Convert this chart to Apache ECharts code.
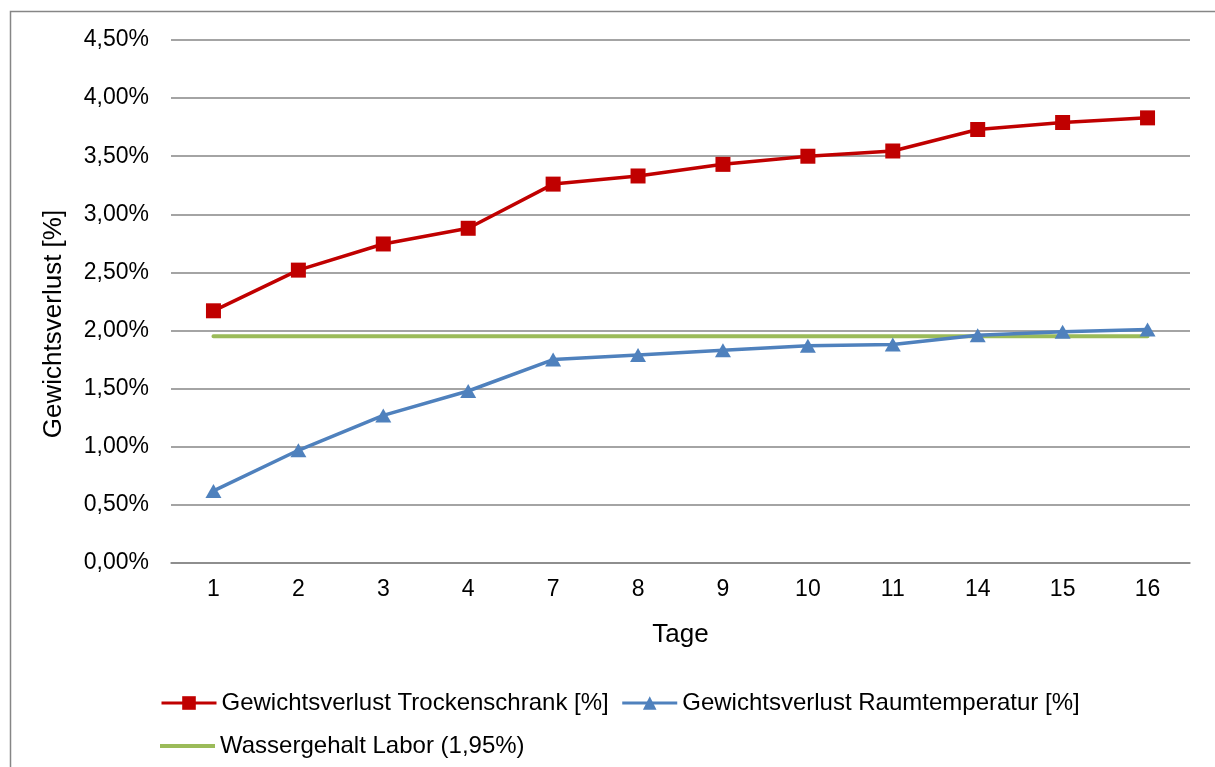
<!DOCTYPE html>
<html>
<head>
<meta charset="utf-8">
<script src="https://cdn.jsdelivr.net/npm/echarts@6/dist/echarts.min.js"></script>
<style>
  html, body { margin: 0; padding: 0; background: #fff; }
  #chart { width: 1215px; height: 767px; }
</style>
</head>
<body>
<div id="chart"></div>
<script>
// Tage der Messung
const tage = ['1', '2', '3', '4', '7', '8', '9', '10', '11', '14', '15', '16'];
// Gewichtsverlust in Prozent
const trockenschrank = [2.17, 2.52, 2.745, 2.88, 3.26, 3.33, 3.43, 3.50, 3.545, 3.73, 3.79, 3.83];
const raumtemperatur = [0.62, 0.97, 1.27, 1.48, 1.75, 1.79, 1.83, 1.87, 1.88, 1.96, 1.99, 2.01];
const wassergehalt = [1.95, 1.95, 1.95, 1.95, 1.95, 1.95, 1.95, 1.95, 1.95, 1.95, 1.95, 1.95];

const nameRot = 'Gewichtsverlust Trockenschrank [%]';
const nameBlau = 'Gewichtsverlust Raumtemperatur [%]';
const nameGruen = 'Wassergehalt Labor (1,95%)';
const titelY = 'Gewichtsverlust [%]';
const titelX = 'Tage';

const font = 'Liberation Sans, Arial, sans-serif';
const chart = echarts.init(document.getElementById('chart'), null, { renderer: 'canvas' });

chart.setOption({
  backgroundColor: '#ffffff',
  animation: false,
  graphic: [{
    type: 'rect',
    shape: { x: 10.5, y: 11.5, width: 1220, height: 770 },
    style: { fill: 'none', stroke: '#868686', lineWidth: 1.5 },
    silent: true
  }, {
    // vertical axis title
    type: 'text',
    x: 54, y: 324,
    rotation: Math.PI / 2,
    style: {
      text: titelY,
      fontFamily: font, fontSize: 26, fill: '#000',
      align: 'center', verticalAlign: 'middle'
    },
    silent: true
  }],
  grid: { left: 171, right: 25, top: 40, bottom: 204, containLabel: false },
  legend: [{
    data: [nameRot, nameBlau],
    left: 155, top: 686,
    itemWidth: 55, itemHeight: 17, itemGap: 12,
    lineStyle: { width: 3 },
    textStyle: { fontFamily: font, fontSize: 24, color: '#000' }
  }, {
    data: [{ name: nameGruen, icon: 'rect' }],
    left: 155, top: 729,
    itemWidth: 55, itemHeight: 4, itemGap: 12,
    textStyle: { fontFamily: font, fontSize: 24, color: '#000' }
  }],
  xAxis: {
    type: 'category',
    data: tage,
    boundaryGap: true,
    name: titelX,
    nameLocation: 'middle',
    nameGap: 59,
    nameTextStyle: { fontFamily: font, fontSize: 26, color: '#000' },
    axisLine: { show: true, lineStyle: { color: '#868686', width: 1.5 } },
    axisTick: { show: false },
    axisLabel: { fontFamily: font, fontSize: 23, color: '#000', margin: 15 }
  },
  yAxis: {
    type: 'value',
    min: 0, max: 4.5, interval: 0.5,
    axisLine: { show: false },
    axisTick: { show: false },
    splitLine: { show: true, lineStyle: { color: '#868686', width: 1.5 } },
    axisLabel: {
      fontFamily: font, fontSize: 23, color: '#000', margin: 22,
      padding: [6, 0, 0, 0],
      formatter: v => v.toFixed(2).replace('.', ',') + '%'
    }
  },
  series: [{
    name: nameRot,
    type: 'line',
    data: trockenschrank,
    symbol: 'rect',
    symbolSize: 15,
    lineStyle: { color: '#C00000', width: 3.5 },
    itemStyle: { color: '#C00000' },
    z: 3
  }, {
    name: nameBlau,
    type: 'line',
    data: raumtemperatur,
    symbol: 'triangle',
    symbolSize: [16, 14],
    lineStyle: { color: '#4F81BD', width: 3.5 },
    itemStyle: { color: '#4F81BD' },
    z: 4
  }, {
    name: nameGruen,
    type: 'line',
    data: wassergehalt,
    symbol: 'none',
    lineStyle: { color: '#9BBB59', width: 4, cap: 'round' },
    itemStyle: { color: '#9BBB59' },
    z: 2
  }]
});
</script>
</body>
</html>
